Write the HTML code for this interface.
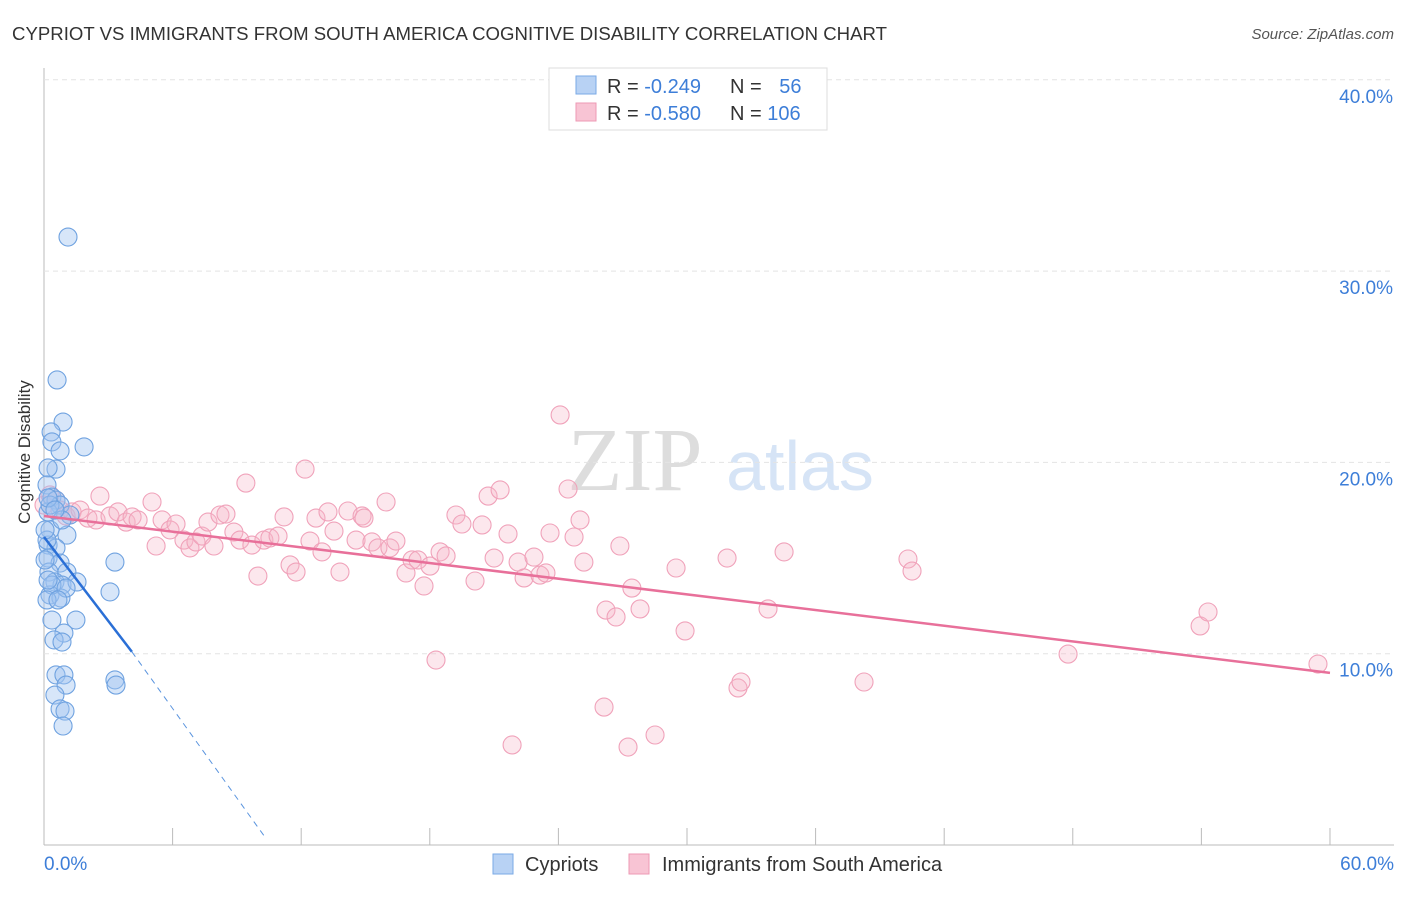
<!DOCTYPE html>
<html><head><meta charset="utf-8"><style>
body{margin:0;background:#fff;font-family:"Liberation Sans",sans-serif}
svg text{font-family:"Liberation Sans",sans-serif}
</style></head><body>
<svg id="c" width="1406" height="892" xmlns="http://www.w3.org/2000/svg">
<text x="12" y="40" font-size="18.6" fill="#333" textLength="875">CYPRIOT VS IMMIGRANTS FROM SOUTH AMERICA COGNITIVE DISABILITY CORRELATION CHART</text>
<text x="1394" y="39" font-size="15" fill="#555" text-anchor="end" font-style="italic">Source: ZipAtlas.com</text>
<text x="36" y="458" font-size="17" fill="#333" text-anchor="middle" transform="rotate(-90 30 458)">Cognitive Disability</text>
<text x="635" y="490" font-size="90" fill="#ddd" text-anchor="middle" style="font-family:'Liberation Serif',serif">ZIP</text>
<text x="800" y="490" font-size="70" fill="#d6e4f6" text-anchor="middle">atlas</text>
<g id="grid"></g><g id="pts"></g><g id="lines"></g>
<g>
<rect x="549" y="68" width="278" height="62" fill="#fff" stroke="#ddd"/>
<rect x="576" y="76" width="20" height="18" fill="#b8d2f4" stroke="#7aaae6"/>
<rect x="576" y="103" width="20" height="18" fill="#f8c4d4" stroke="#ee9ab4"/>
<text x="607" y="93" font-size="20" fill="#333">R = <tspan fill="#3d7ed8">-0.249</tspan></text>
<text x="730" y="93" font-size="20" fill="#333">N = <tspan fill="#3d7ed8" dx="12">56</tspan></text>
<text x="607" y="120" font-size="20" fill="#333">R = <tspan fill="#3d7ed8">-0.580</tspan></text>
<text x="730" y="120" font-size="20" fill="#333">N = <tspan fill="#3d7ed8">106</tspan></text>
</g>
<g>
<rect x="493" y="854" width="20" height="20" fill="#b8d2f4" stroke="#7aaae6"/>
<text x="525" y="871" font-size="20" fill="#333">Cypriots</text>
<rect x="629" y="854" width="20" height="20" fill="#f8c4d4" stroke="#ee9ab4"/>
<text x="662" y="871" font-size="20" fill="#333">Immigrants from South America</text>
</g>
</svg>
<script>
const xTicks=[0,6,12,18,24,30,36,42,48,54,60];
const yTicks=[10,20,30,40];
const yTickLabels=["10.0%","20.0%","30.0%","40.0%"];
const xLabels=["0.0%","60.0%"];
const blueTrend=[[0,16.1],[4.1,10.1]];
const blueDash=[[4.1,10.1],[10.35,0.35]];
const pinkTrend=[[0,17.2],[60,9.0]];
const bluePx=[[68,237],[57,380],[63,422],[51,432],[84,447],[52,442],[60,451],[56,469],[48,468],[47,485],[52,497],[56,500],[60,505],[48,512],[70,515],[50,530],[67,535],[48,545],[56,548],[48,558],[60,563],[67,572],[115,562],[49,572],[55,582],[62,585],[77,582],[50,595],[61,598],[110,592],[76,620],[64,633],[54,640],[62,642],[56,675],[64,675],[66,685],[115,680],[116,685],[55,695],[60,709],[65,711],[63,726],[52,585],[47,540],[45,530],[45,560],[48,580],[66,588],[47,600],[52,620],[58,600],[50,505],[62,520],[48,498],[55,510]];
const pinkPx=[[44,505],[50,495],[56,500],[60,510],[66,516],[72,512],[80,510],[88,518],[100,496],[96,520],[110,516],[118,512],[126,522],[132,517],[138,520],[152,502],[156,546],[162,520],[170,530],[176,524],[184,540],[190,548],[196,542],[202,536],[208,522],[214,546],[220,515],[226,514],[234,532],[240,540],[246,483],[252,545],[258,576],[264,540],[270,538],[278,536],[284,517],[290,565],[296,572],[305,469],[310,541],[316,518],[322,552],[328,512],[334,531],[340,572],[348,511],[356,540],[362,516],[364,518],[372,542],[378,548],[386,502],[390,548],[396,541],[406,573],[412,560],[418,560],[424,586],[430,566],[436,660],[440,552],[446,556],[456,515],[462,524],[475,581],[482,525],[488,496],[494,558],[500,490],[508,534],[512,745],[518,562],[524,578],[534,557],[540,575],[546,573],[550,533],[560,415],[568,489],[574,537],[580,520],[584,562],[604,707],[606,610],[616,617],[620,546],[628,747],[632,588],[640,609],[655,735],[676,568],[685,631],[727,558],[738,688],[741,682],[768,609],[784,552],[864,682],[908,559],[912,571],[1068,654],[1200,626],[1208,612],[1318,664]];
const cyp=bluePx.map(p=>[+((p[0]-44)/21.433).toFixed(2),+((845-p[1])/19.13).toFixed(2)]);
const imm=pinkPx.map(p=>[+((p[0]-44)/21.433).toFixed(2),+((845-p[1])/19.13).toFixed(2)]);
const X=v=>44+v*21.433, Y=v=>845-v*19.13;
const NS="http://www.w3.org/2000/svg";
function mk(t,a,parent){const e=document.createElementNS(NS,t);for(const k in a)e.setAttribute(k,a[k]);document.getElementById(parent).appendChild(e);return e;}
let e=mk('line',{x1:44,y1:68,x2:44,y2:845,stroke:'#bbb'},'grid');


e=mk('line',{x1:44,y1:845,x2:1394,y2:845,stroke:'#bbb'},'grid');


xTicks.forEach(t=>{const el=mk('line',{x1:X(t),y1:828,x2:X(t),y2:845,stroke:'#bbb'},'grid');

});
yTicks.forEach((t,i)=>{const el=mk('line',{x1:44,y1:Y(t),x2:1394,y2:Y(t),stroke:'#e4e4e4','stroke-dasharray':'5,4'},'grid');


const tx=mk('text',{x:1393,y:Y(t)+23,'font-size':19,fill:'#3d7ed8','text-anchor':'end'},'grid');tx.textContent=yTickLabels[i];

});
let t1=mk('text',{x:44,y:870,'font-size':19,fill:'#3d7ed8'},'grid');t1.textContent=xLabels[0];


let t2=mk('text',{x:1394,y:870,'font-size':19,fill:'#3d7ed8','text-anchor':'end'},'grid');t2.textContent=xLabels[1];


imm.forEach(p=>{const c=mk('circle',{cx:X(p[0]),cy:Y(p[1]),r:9,fill:'rgba(246,180,200,0.32)',stroke:'#f0a2ba','stroke-width':1.1},'pts');

});
cyp.forEach(p=>{const c=mk('circle',{cx:X(p[0]),cy:Y(p[1]),r:9,fill:'rgba(160,196,240,0.42)',stroke:'#6fa2e0','stroke-width':1.1},'pts');

});
let l=mk('line',{x1:X(pinkTrend[0][0]),y1:Y(pinkTrend[0][1]),x2:X(pinkTrend[1][0]),y2:Y(pinkTrend[1][1]),stroke:'#e8709a','stroke-width':2.5},'lines');


l=mk('line',{x1:X(blueTrend[0][0]),y1:Y(blueTrend[0][1]),x2:X(blueTrend[1][0]),y2:Y(blueTrend[1][1]),stroke:'#2a6fd6','stroke-width':2.5},'lines');


l=mk('line',{x1:X(blueDash[0][0]),y1:Y(blueDash[0][1]),x2:X(blueDash[1][0]),y2:Y(blueDash[1][1]),stroke:'#5a94de','stroke-width':1,'stroke-dasharray':'6,5'},'lines');


</script>
</body></html>
